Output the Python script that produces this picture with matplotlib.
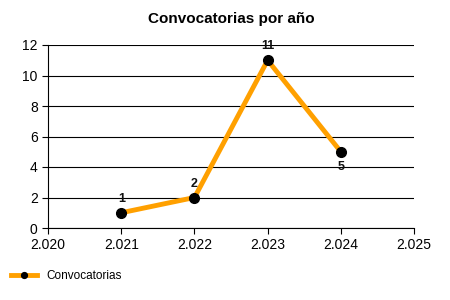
import matplotlib.pyplot as plt
from matplotlib.ticker import FuncFormatter

years = [2021, 2022, 2023, 2024]
convocatorias = [1, 2, 11, 5]
label_below = [False, False, False, True]

plt.rcParams['font.family'] = ['Liberation Sans', 'DejaVu Sans']

fig = plt.figure(figsize=(4.5, 3), dpi=100)
ax = fig.add_axes([0.107, 0.24, 0.813, 0.61])

ax.plot(years, convocatorias, color='#FFA000', linewidth=3.5,
        marker='o', markersize=7, markerfacecolor='black',
        markeredgecolor='black', label='Convocatorias', zorder=3)

for x, y, below in zip(years, convocatorias, label_below):
    off = -11 if below else 10
    ax.annotate(str(y), (x, y), xytext=(0, off), textcoords='offset points',
                ha='center', va='center', fontsize=9, fontweight='bold',
                color='#111111')

ax.set_xlim(2020, 2025)
ax.set_ylim(0, 12)
ax.set_xticks(range(2020, 2026))
ax.set_yticks(range(0, 13, 2))
ax.xaxis.set_major_formatter(FuncFormatter(lambda v, p: f'{int(v):,}'.replace(',', '.')))
ax.yaxis.grid(True, color='black', linewidth=0.8)
ax.set_axisbelow(True)
ax.spines['top'].set_visible(False)
ax.spines['right'].set_visible(False)
ax.tick_params(labelsize=10, length=4, width=0.8)

ax.set_title('Convocatorias por año', fontsize=11, fontweight='bold', pad=16)

fig.legend(loc='lower left', bbox_to_anchor=(0.0, 0.025), frameon=False,
           fontsize=8.5, handlelength=2.2, markerscale=0.6)

fig.savefig('out.png', dpi=100)
